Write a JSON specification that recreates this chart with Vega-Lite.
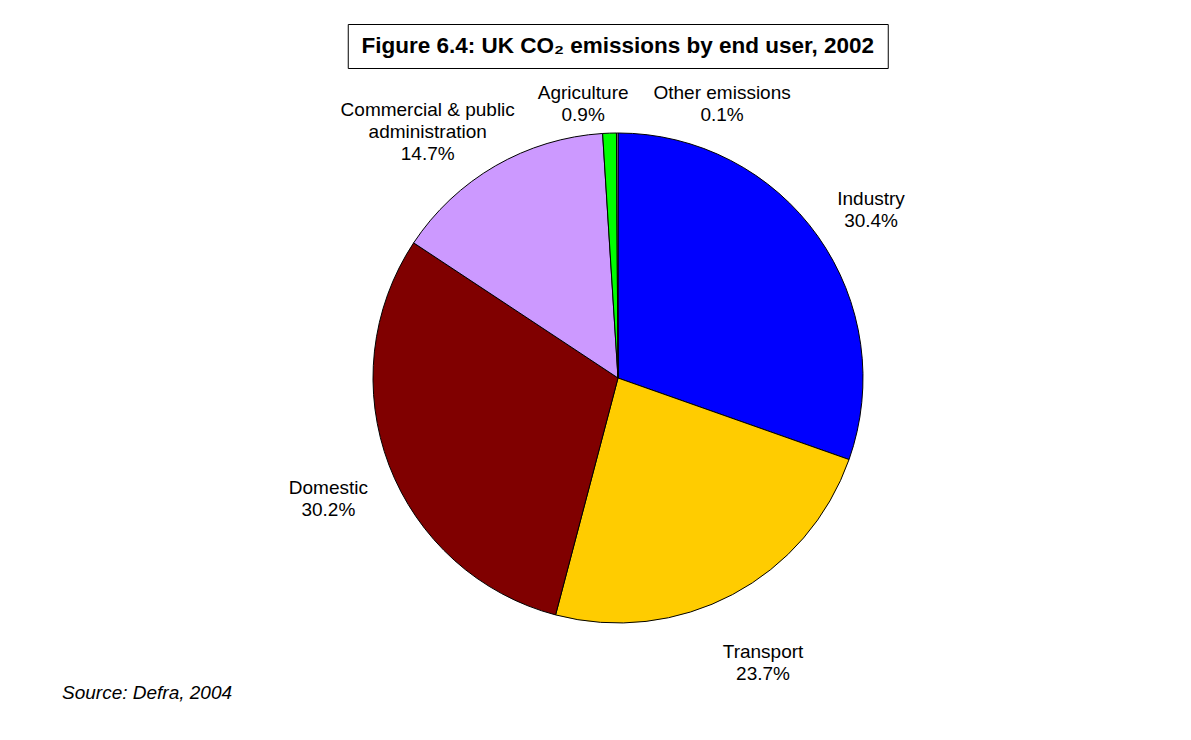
{
  "$schema": "https://vega.github.io/schema/vega-lite/v6.json",
  "padding": {"left": 8, "top": 23, "right": 0, "bottom": 0},
  "background": "white",
  "config": {"font": "Liberation Sans", "view": {"stroke": null}},
  "center": true,
  "spacing": -10,
  "vconcat": [
    {
      "width": 540,
      "height": 44,
      "view": {"stroke": "black", "strokeWidth": 1},
      "data": {"values": [{"title": "Figure 6.4: UK CO₂ emissions by end user, 2002"}]},
      "mark": {"type": "text", "fontSize": 22.5, "fontWeight": "bold", "color": "black", "align": "center", "baseline": "middle"},
      "encoding": {"text": {"field": "title", "type": "nominal"}}
    },
    {
      "width": 1220,
      "height": 600,
      "title": {"text": "Source: Defra, 2004", "orient": "bottom", "anchor": "start", "fontStyle": "italic", "fontWeight": "normal", "fontSize": 19, "dx": 54, "offset": 0, "color": "black"},
      "data": {"values": [
        {"sector": "Industry", "share": 30.4, "order": 1, "label": "Industry\n30.4%"},
        {"sector": "Transport", "share": 23.7, "order": 2, "label": "Transport\n23.7%"},
        {"sector": "Domestic", "share": 30.2, "order": 3, "label": "Domestic\n30.2%"},
        {"sector": "Commercial & public administration", "share": 14.7, "order": 4, "label": "Commercial & public\nadministration\n14.7%"},
        {"sector": "Agriculture", "share": 0.9, "order": 5, "label": "Agriculture\n0.9%"},
        {"sector": "Other emissions", "share": 0.1, "order": 6, "label": "Other emissions\n0.1%"}
      ]},
      "encoding": {
        "theta": {"field": "share", "type": "quantitative", "stack": true},
        "order": {"field": "order", "type": "quantitative"}
      },
      "layer": [
        {
          "mark": {"type": "arc", "outerRadius": 245, "stroke": "black", "strokeWidth": 1},
          "encoding": {
            "color": {"field": "sector", "type": "nominal", "legend": null,
              "scale": {"domain": ["Industry", "Transport", "Domestic", "Commercial & public administration", "Agriculture", "Other emissions"],
                        "range": ["#0000FF", "#FFCC00", "#800000", "#CC99FF", "#00FF00", "#C0C0C0"]}}
          }
        },
        {
          "mark": {"type": "text", "radius": 310, "fontSize": 19, "lineBreak": "\n", "lineHeight": 22, "align": "center", "baseline": "middle", "color": "black"},
          "encoding": {"text": {"condition": {"test": "datum.order <= 3", "field": "label"}, "value": ""}}
        },
        {
          "mark": {"type": "text", "radius": 310, "fontSize": 19, "lineBreak": "\n", "lineHeight": 22, "align": "center", "baseline": "middle", "color": "black", "dx": -35},
          "encoding": {"text": {"condition": {"test": "datum.order == 4", "field": "label"}, "value": ""}}
        },
        {
          "mark": {"type": "text", "radius": 285, "fontSize": 19, "lineBreak": "\n", "lineHeight": 22, "align": "center", "baseline": "middle", "color": "black", "dx": -25},
          "encoding": {"text": {"condition": {"test": "datum.order == 5", "field": "label"}, "value": ""}}
        },
        {
          "mark": {"type": "text", "radius": 285, "fontSize": 19, "lineBreak": "\n", "lineHeight": 22, "align": "center", "baseline": "middle", "color": "black", "dx": 105},
          "encoding": {"text": {"condition": {"test": "datum.order == 6", "field": "label"}, "value": ""}}
        }
      ]
    }
  ]
}
